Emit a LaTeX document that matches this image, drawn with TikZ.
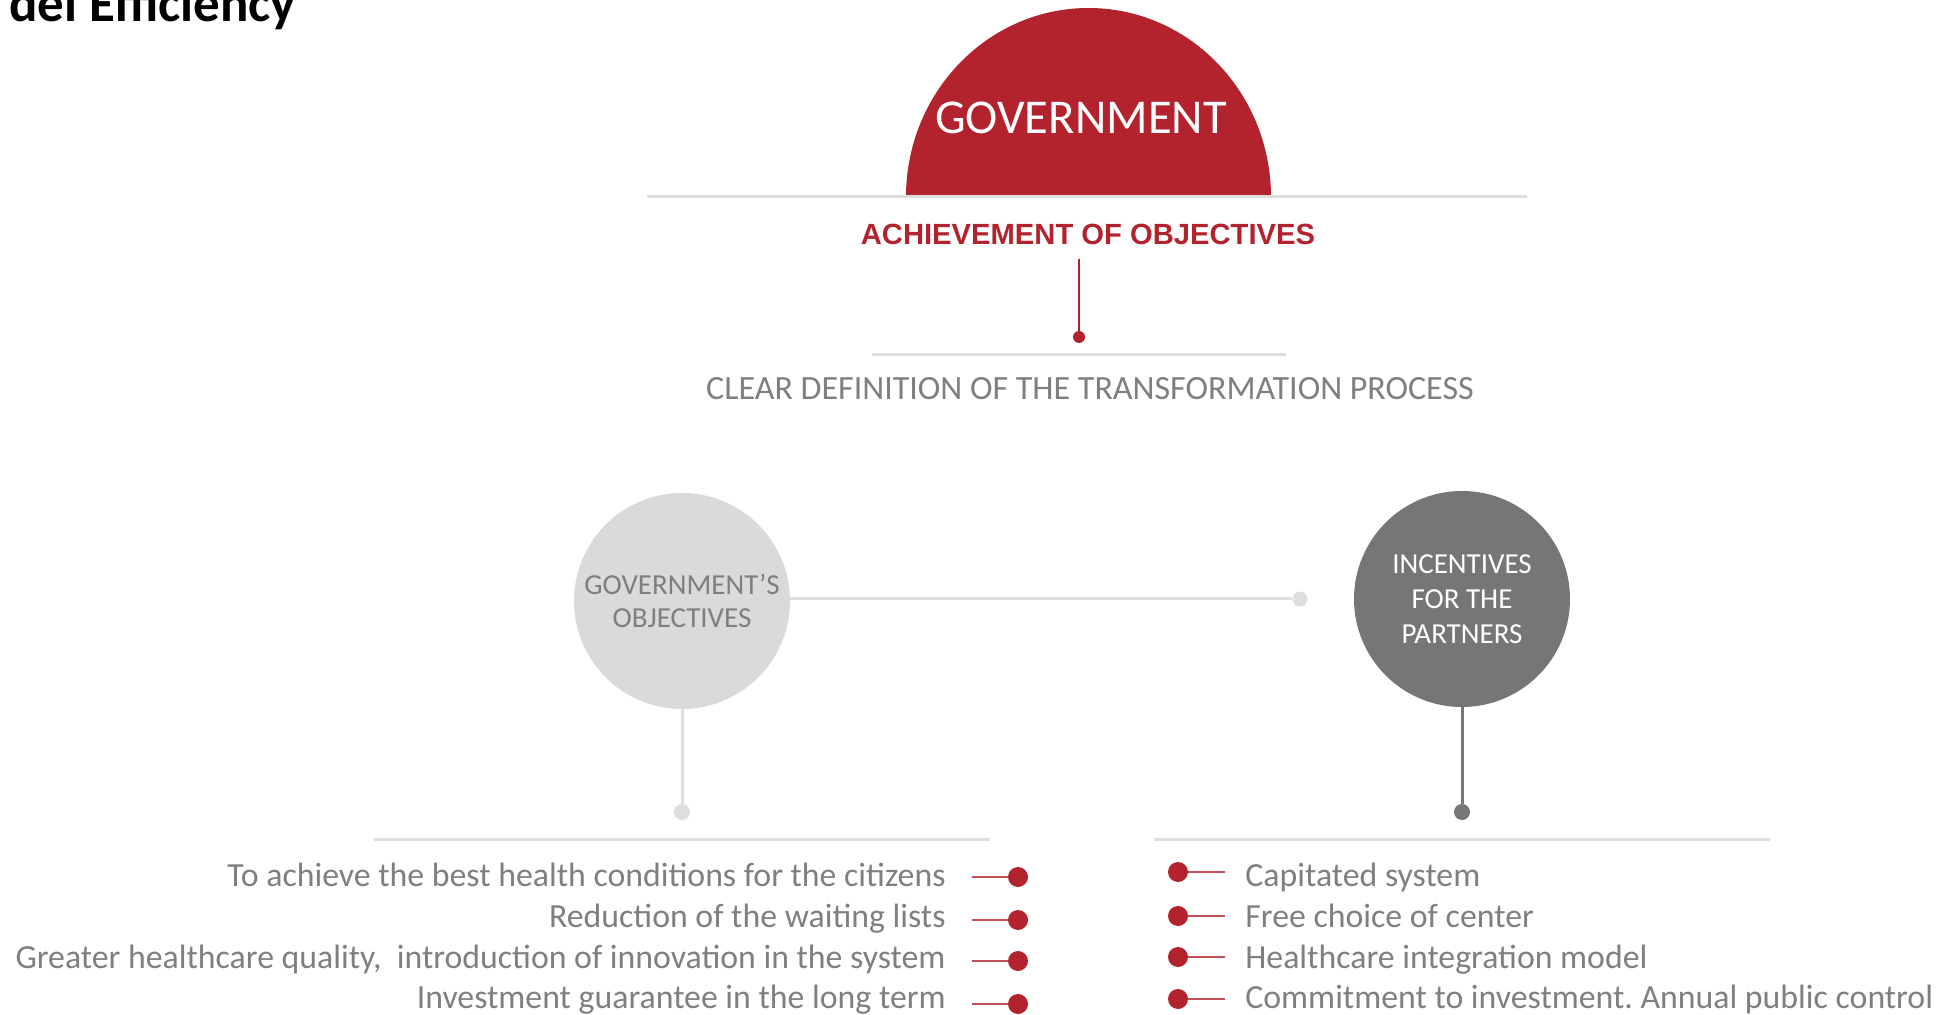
\documentclass[tikz,border=0pt]{standalone}
\usepackage{fontspec}
\setmainfont{Carlito}
\newfontfamily\headfont{Liberation Sans}
\usetikzlibrary{positioning}
\frenchspacing

\definecolor{govred}{HTML}{B2232D}
\definecolor{textgray}{HTML}{7F7F7F}
\definecolor{rulegray}{HTML}{DEDEDE}
\definecolor{lightdisk}{HTML}{D9DADC}
\definecolor{darkdisk}{HTML}{767676}

\begin{document}
\begin{tikzpicture}
	[x=0.5pt,y=0.5pt,
		rule/.style={draw=rulegray,line width=1.5pt},
		stem/.style={line width=1pt},
		bead/.style={circle,inner sep=0pt,minimum size=#1},
		disk/.style={circle,inner sep=0pt,minimum size=108pt,align=center,font=\fontsize{14.5}{17.5}\selectfont},
		item/.style={text=textgray,inner sep=0pt,font=\fontsize{16.9}{19}\selectfont}]

	\useasboundingbox (0,0) rectangle (1944,-1015);

	\node[anchor=base west,inner sep=0pt,font=\bfseries\fontsize{26.5}{30}\selectfont] (title) at (9,-22) {del Efficiency};

	% government half disk
	\fill[govred] (906,-197) arc[start angle=180,end angle=0,x radius=182.5,y radius=189];
	\node[anchor=base,inner sep=0pt,text=white,font=\fontsize{24.3}{28}\selectfont] (gov) at (1081,-134) {GOVERNMENT};

	\coordinate (topL) at (647,-197);
	\coordinate (topR) at (1527,-197);
	\draw[rule] (topL) -- (topR);

	\node[anchor=base,inner sep=0pt,text=govred,font=\headfont\bfseries\fontsize{14.6}{17}\selectfont] (ach) at (1088,-245) {ACHIEVEMENT OF OBJECTIVES};
	\coordinate (achfoot) at (1079,-259);
	\node[bead=6pt,fill=govred] (achdot) at (1079,-337) {};
	\draw[stem,draw=govred] (achfoot) -- (achdot);

	\coordinate (procL) at (872,-355);
	\coordinate (procR) at (1286,-355);
	\draw[rule] (procL) -- (procR);
	\node[anchor=base,inner sep=0pt,text=textgray,font=\fontsize{17}{20}\selectfont] (proc) at (1090,-400) {CLEAR DEFINITION OF THE TRANSFORMATION PROCESS};

	% the two circles
	\node[disk,fill=lightdisk,text=textgray] (goals) at (682,-601) {GOVERNMENT’S\\[-1pt]OBJECTIVES};
	\node[disk,fill=darkdisk,text=white] (incent) at (1462,-599) {INCENTIVES\\FOR THE\\PARTNERS};

	\node[bead=7.5pt,fill=rulegray] (middot) at (1300,-599) {};
	\draw[rule] (goals.east |- middot) -- (middot);

	\node[bead=8pt,fill=rulegray] (gstemdot) at (682,-812) {};
	\draw[rule] (goals) -- (gstemdot);
	\node[bead=8pt,fill=darkdisk] (istemdot) at (1462,-812) {};
	\draw[draw=darkdisk,line width=1.5pt] (incent) -- (istemdot);

	\coordinate (goalsL) at (374,-839);
	\coordinate (goalsR) at (990,-839);
	\draw[rule] (goalsL) -- (goalsR);
	\coordinate (incentL) at (1154,-839);
	\coordinate (incentR) at (1770,-839);
	\draw[rule] (incentL) -- (incentR);

	% bullet lists
	\foreach \yb/\yd/\txt [count=\i] in {886/877/{To achieve the best health conditions for the citizens},
		927/920/{Reduction of the waiting lists},
		968/961/{Greater healthcare quality,~ introduction of innovation in the system},
		1008/1004/{Investment guarantee in the long term}}
	{
		\node[item,anchor=base east] (goal\i) at (946,-\yb) {\txt};
		\node[bead=10pt,fill=govred] (gdot\i) at (1018,-\yd) {};
		\coordinate (gtick\i) at (972,-\yd);
		\draw[stem,draw=govred!80] (gtick\i) -- (gdot\i);
	}

	\foreach \yb/\yd/\txt [count=\i] in {886/872/{Capitated system},
		927/916/{Free choice of center},
		968/957/{Healthcare integration model},
		1008/999/{Commitment to investment. Annual public control}}
	{
		\node[item,anchor=base west] (perk\i) at (1245,-\yb) {\txt};
		\node[bead=10pt,fill=govred] (pdot\i) at (1178,-\yd) {};
		\coordinate (ptick\i) at (1225,-\yd);
		\draw[stem,draw=govred!80] (pdot\i) -- (ptick\i);
	}

\end{tikzpicture}
\end{document}
